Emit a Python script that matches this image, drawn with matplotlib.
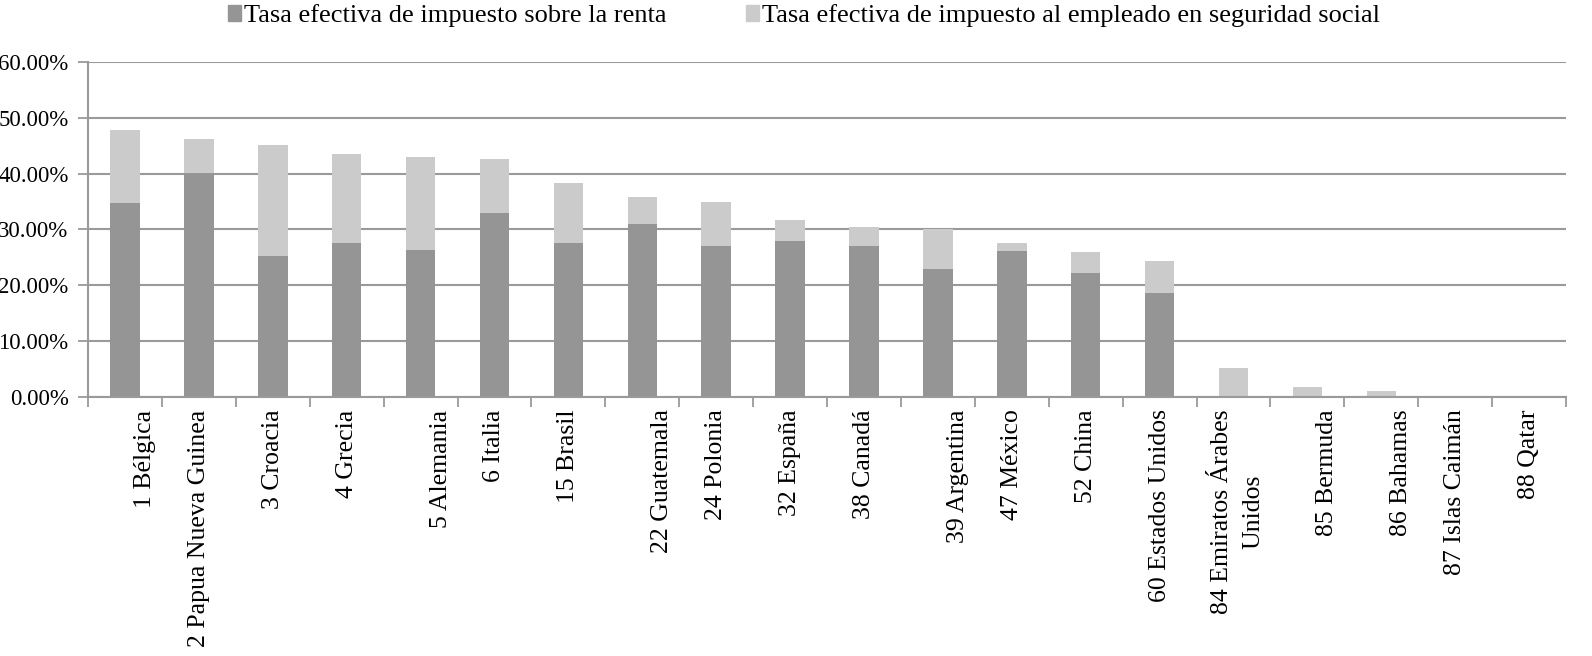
import numpy as np
import matplotlib.pyplot as plt
from matplotlib.patches import Patch
from matplotlib.ticker import FuncFormatter
from matplotlib.transforms import ScaledTranslation

plt.rcParams['font.family'] = ['Liberation Serif', 'DejaVu Serif']

paises = ["1 Bélgica", "2 Papua Nueva Guinea", "3 Croacia", "4 Grecia",
          "5 Alemania", "6 Italia", "15 Brasil", "22 Guatemala",
          "24 Polonia", "32 España", "38 Canadá", "39 Argentina",
          "47 México", "52 China", "60 Estados Unidos",
          "84 Emiratos Árabes\nUnidos", "85 Bermuda", "86 Bahamas",
          "87 Islas Caimán", "88 Qatar"]

# tasa efectiva de impuesto sobre la renta (%)
renta = [34.8, 40.1, 25.2, 27.5, 26.3, 33.0, 27.5, 31.0, 27.1, 28.0,
         27.1, 23.0, 26.2, 22.2, 18.6, 0.0, 0.0, 0.0, 0.0, 0.0]
# tasa efectiva de impuesto al empleado en seguridad social (%)
seg_social = [13.0, 6.1, 20.0, 16.0, 16.7, 9.6, 10.9, 4.8, 7.9, 3.7,
              3.3, 7.1, 1.4, 3.8, 5.7, 5.1, 1.7, 1.1, 0.0, 0.0]

etiquetas = ["Tasa efectiva de impuesto sobre la renta",
             "Tasa efectiva de impuesto al empleado en seguridad social"]

# labels that sit a bit to the right of their bar in the original
corridos = ["1 Bélgica", "5 Alemania", "22 Guatemala", "39 Argentina",
            "85 Bermuda", "86 Bahamas"]

c_dark = '#959595'
c_light = '#cbcbcb'
c_grid = '#9a9a9a'

fig = plt.figure(figsize=(15.92, 6.56), dpi=100)
ax = fig.add_axes([0.0553, 0.395, 0.9284, 0.5105])

x = np.arange(len(paises))
renta = np.array(renta) / 100
seg_social = np.array(seg_social) / 100
ax.bar(x, renta, width=0.4, color=c_dark, zorder=3)
ax.bar(x, seg_social, width=0.4, bottom=renta, color=c_light, zorder=3)

ax.set_xlim(-0.5, len(paises) - 0.5)
ax.set_ylim(0, 0.6)
ax.set_yticks(np.arange(0, 0.61, 0.1))
ax.yaxis.set_major_formatter(FuncFormatter(lambda v, p: f"{v*100:.2f}%"))
ax.grid(axis='y', color=c_grid, lw=1.5, zorder=0)

ax.set_xticks(x)
ax.set_xticklabels(paises, rotation=90, va='top', ha='center',
                   fontsize=18.5, linespacing=1.55)
ax.set_xticks(np.arange(len(paises) + 1) - 0.5, minor=True)
ax.tick_params(axis='x', which='major', length=0, pad=9)
ax.tick_params(axis='x', which='minor', length=7, width=1.3, color=c_grid)
ax.tick_params(axis='y', length=7, width=1.3, color=c_grid, labelsize=16.5,
               pad=7)

shift = ScaledTranslation(0.2, 0, fig.dpi_scale_trans)
small = ScaledTranslation(0.04, 0, fig.dpi_scale_trans)
for lab in ax.get_xticklabels():
    if lab.get_text() in corridos:
        lab.set_transform(lab.get_transform() + shift)
    elif "\n" in lab.get_text():
        lab.set_transform(lab.get_transform() + small)

for s in ['top', 'right']:
    ax.spines[s].set_visible(False)
for s in ['left', 'bottom']:
    ax.spines[s].set_color(c_grid)
    ax.spines[s].set_linewidth(1.5)
ax.spines['bottom'].set_zorder(4)

handles = [Patch(color=c_dark), Patch(color=c_light)]
fig.legend(handles, etiquetas, loc='upper center', bbox_to_anchor=(0.505, 1.03),
           ncol=2, frameon=False, fontsize=19, handlelength=0.5,
           handleheight=0.55, handletextpad=0.12, columnspacing=3.0)

fig.savefig('out.png', dpi=100)
